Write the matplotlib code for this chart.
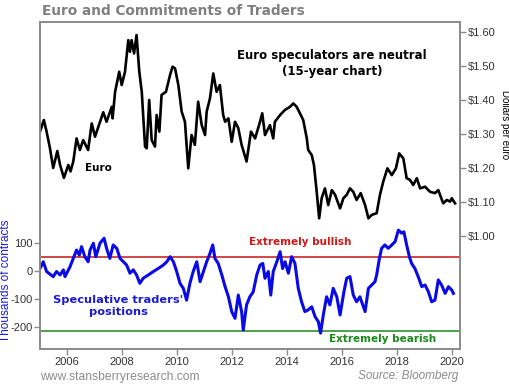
import matplotlib
matplotlib.use("Agg")
import matplotlib.pyplot as plt

plt.rcParams["axes.unicode_minus"] = False

# Euro price (dollars per euro)
euro_year = [2005.02, 2005.16, 2005.26, 2005.38, 2005.50, 2005.65, 2005.75, 2005.89,
             2006.05, 2006.13, 2006.23, 2006.35, 2006.47, 2006.59, 2006.77, 2006.90,
             2007.02, 2007.32, 2007.44, 2007.63, 2007.66, 2007.75, 2007.90, 2007.99,
             2008.11, 2008.23, 2008.29, 2008.35, 2008.44, 2008.53, 2008.63, 2008.72,
             2008.84, 2008.90, 2008.99, 2009.08, 2009.20, 2009.26, 2009.36, 2009.44,
             2009.60, 2009.75, 2009.84, 2009.93, 2010.05, 2010.17, 2010.29, 2010.41,
             2010.53, 2010.65, 2010.77, 2010.90, 2011.02, 2011.08, 2011.20, 2011.32,
             2011.44, 2011.56, 2011.68, 2011.75, 2011.87, 2011.99, 2012.11, 2012.23,
             2012.35, 2012.53, 2012.69, 2012.84, 2013.02, 2013.10, 2013.20, 2013.38,
             2013.50, 2013.56, 2013.75, 2013.93, 2014.11, 2014.23, 2014.35, 2014.47,
             2014.59, 2014.72, 2014.77, 2014.90, 2014.98, 2015.08, 2015.17, 2015.26,
             2015.38, 2015.50, 2015.63, 2015.75, 2015.93, 2016.05, 2016.17, 2016.29,
             2016.41, 2016.53, 2016.68, 2016.84, 2016.96, 2017.08, 2017.26, 2017.38,
             2017.50, 2017.65, 2017.81, 2017.96, 2018.08, 2018.23, 2018.35, 2018.47,
             2018.59, 2018.72, 2018.84, 2019.02, 2019.20, 2019.38, 2019.50, 2019.68,
             2019.81, 2019.93, 2019.99, 2020.11]
euro_price = [1.307, 1.341, 1.307, 1.259, 1.200, 1.250, 1.209, 1.171,
              1.209, 1.190, 1.219, 1.287, 1.253, 1.282, 1.253, 1.331,
              1.292, 1.364, 1.336, 1.380, 1.346, 1.424, 1.483, 1.444,
              1.483, 1.576, 1.542, 1.576, 1.537, 1.591, 1.483, 1.424,
              1.263, 1.258, 1.400, 1.282, 1.263, 1.356, 1.307, 1.415,
              1.424, 1.474, 1.498, 1.493, 1.444, 1.366, 1.336, 1.199,
              1.297, 1.268, 1.395, 1.326, 1.297, 1.366, 1.405, 1.478,
              1.424, 1.444, 1.356, 1.336, 1.346, 1.277, 1.336, 1.317,
              1.268, 1.219, 1.307, 1.287, 1.336, 1.361, 1.297, 1.326,
              1.287, 1.336, 1.356, 1.371, 1.380, 1.390, 1.380, 1.361,
              1.341, 1.287, 1.253, 1.238, 1.209, 1.130, 1.052, 1.111,
              1.140, 1.091, 1.135, 1.121, 1.081, 1.111, 1.121, 1.140,
              1.130, 1.106, 1.126, 1.091, 1.052, 1.062, 1.067, 1.121,
              1.160, 1.199, 1.179, 1.199, 1.243, 1.228, 1.170, 1.165,
              1.150, 1.170, 1.140, 1.145, 1.130, 1.126, 1.135, 1.096,
              1.106, 1.101, 1.111, 1.096]

# speculative net positions, thousands of contracts
cot_year = [2005.02, 2005.14, 2005.26, 2005.50, 2005.62, 2005.75, 2005.87, 2005.93,
            2006.11, 2006.23, 2006.35, 2006.45, 2006.53, 2006.65, 2006.77, 2006.84,
            2006.96, 2007.05, 2007.20, 2007.35, 2007.44, 2007.56, 2007.68, 2007.81,
            2007.93, 2008.05, 2008.17, 2008.29, 2008.41, 2008.53, 2008.65, 2008.77,
            2008.96, 2009.14, 2009.32, 2009.50, 2009.63, 2009.75, 2009.87, 2009.99,
            2010.11, 2010.23, 2010.35, 2010.47, 2010.59, 2010.72, 2010.84, 2010.96,
            2011.08, 2011.20, 2011.30, 2011.38, 2011.50, 2011.63, 2011.75, 2011.87,
            2011.99, 2012.11, 2012.23, 2012.35, 2012.41, 2012.53, 2012.65, 2012.77,
            2012.90, 2013.02, 2013.12, 2013.20, 2013.32, 2013.41, 2013.50, 2013.63,
            2013.75, 2013.84, 2013.93, 2014.05, 2014.17, 2014.29, 2014.41, 2014.53,
            2014.65, 2014.77, 2014.90, 2015.02, 2015.14, 2015.22, 2015.32, 2015.44,
            2015.56, 2015.68, 2015.81, 2015.93, 2016.07, 2016.17, 2016.29, 2016.41,
            2016.53, 2016.65, 2016.84, 2016.96, 2017.08, 2017.20, 2017.26, 2017.36,
            2017.44, 2017.56, 2017.68, 2017.81, 2017.93, 2018.05, 2018.17, 2018.25,
            2018.35, 2018.45, 2018.53, 2018.65, 2018.77, 2018.90, 2019.02, 2019.14,
            2019.26, 2019.38, 2019.50, 2019.62, 2019.75, 2019.87, 2019.99, 2020.05]
cot_pos = [9, 33, -2, -20, -2, -14, 4, -20,
           15, 45, 75, 57, 87, 51, 33, 75,
           99, 51, 99, 117, 81, 45, 93, 81,
           45, 33, 21, -8, 4, -14, -44, -26,
           -14, -2, 9, 21, 33, 51, 33, -2,
           -44, -62, -104, -44, -2, 33, -38, -2,
           33, 63, 93, 45, 27, -14, -56, -92,
           -145, -169, -86, -145, -211, -121, -92, -75,
           -14, 21, 27, -26, -2, -86, -2, 33,
           69, 9, 33, -8, 51, 27, -62, -110,
           -145, -139, -128, -163, -181, -222, -157, -92,
           -121, -62, -92, -157, -74, -26, -20, -86,
           -110, -92, -145, -62, -50, -38, -14, 45,
           81, 93, 81, 93, 105, 146, 135, 140,
           93, 51, 27, 9, -20, -56, -50, -74,
           -110, -104, -32, -50, -80, -56, -68, -80]

bullish = 51
bearish = -214
year_ticks = [2006, 2008, 2010, 2012, 2014, 2016, 2018, 2020]
pos_ticks = [-200, -100, 0, 100]
price_ticks = [1.00, 1.10, 1.20, 1.30, 1.40, 1.50, 1.60]

grey = "#8c8c8c"
txt = "#333333"

fig = plt.figure(figsize=(5.1, 3.84), dpi=100)
ax = fig.add_axes([40/510, 35/384, 420/510, 327/384])
ax2 = ax.twinx()

ax.plot(cot_year, cot_pos, color="#0a0ae6", lw=2.2, zorder=3)
ax.axhline(bullish, color="#c81414", lw=1.1)
ax.axhline(bearish, color="#1a8a1a", lw=1.1)
ax.set_ylim(-278.6, 889.3)
ax.set_xlim(2005.02, 2020.29)
ax.set_yticks(pos_ticks)
ax.set_xticks(year_ticks)
ax.tick_params(labelsize=8, colors=txt, length=4, width=1, direction="out")
ax.tick_params(axis="y", pad=1.5)
ax.tick_params(axis="x", pad=2)
ax.set_ylabel("Thousands of contracts", color="#1a1ad0", fontsize=8.5,
              family="Liberation Sans")
ax.yaxis.set_label_coords(-0.066, 0.21)

ax2.plot(euro_year, euro_price, color="black", lw=1.9)
ax2.set_ylim(0.6676, 1.6294)
ax2.set_yticks(price_ticks)
ax2.set_yticklabels(["$%.2f" % p for p in price_ticks])
ax2.tick_params(labelsize=8, colors=txt, length=4, width=1, direction="out", pad=1.5)
ax2.set_ylabel("Dollars per euro", color="black", fontsize=7, rotation=270,
               family="Liberation Sans")
ax2.yaxis.set_label_coords(1.118, 0.685)

for a in (ax, ax2):
    for s in a.spines.values():
        s.set_color(grey)
        s.set_linewidth(1.3)
    for lab in a.get_xticklabels() + a.get_yticklabels():
        lab.set_family("Liberation Sans")
ax.tick_params(axis="both", color=grey)
ax2.tick_params(axis="y", color=grey)

ax2.text(0.695, 0.873, "Euro speculators are neutral\n(15-year chart)",
         transform=ax.transAxes, ha="center", va="center", fontsize=8.5,
         fontweight="bold", linespacing=1.35)
ax.text(0.138, 0.555, "Euro", transform=ax.transAxes, ha="center", va="center",
        fontsize=7.5, fontweight="bold")
ax.text(0.62, 0.327, "Extremely bullish", transform=ax.transAxes, ha="center",
        va="center", color="#d01818", fontsize=7.5, fontweight="bold")
ax.text(0.815, 0.03, "Extremely bearish", transform=ax.transAxes, ha="center",
        va="center", color="#1a8a1a", fontsize=7.5, fontweight="bold")
ax.text(0.186, 0.13, "Speculative traders'\npositions", transform=ax.transAxes,
        ha="center", va="center", color="#1a1ad0", fontsize=8.2,
        fontweight="bold", linespacing=1.25)

fig.text(42/510, 1 - 11/384, "Euro and Commitments of Traders", ha="left",
         va="center", color="#7f7f7f", fontsize=9.8, fontweight="bold")
fig.text(40/510, 1 - 377/384, "www.stansberryresearch.com", ha="left",
         va="center", color="#8c8c8c", fontsize=8.7, family="Liberation Sans")
fig.text(458/510, 1 - 376/384, "Source: Bloomberg", ha="right", va="center",
         color="#8c8c8c", fontsize=8.5, style="italic", family="Liberation Sans")

fig.savefig("out.png", dpi=100)
